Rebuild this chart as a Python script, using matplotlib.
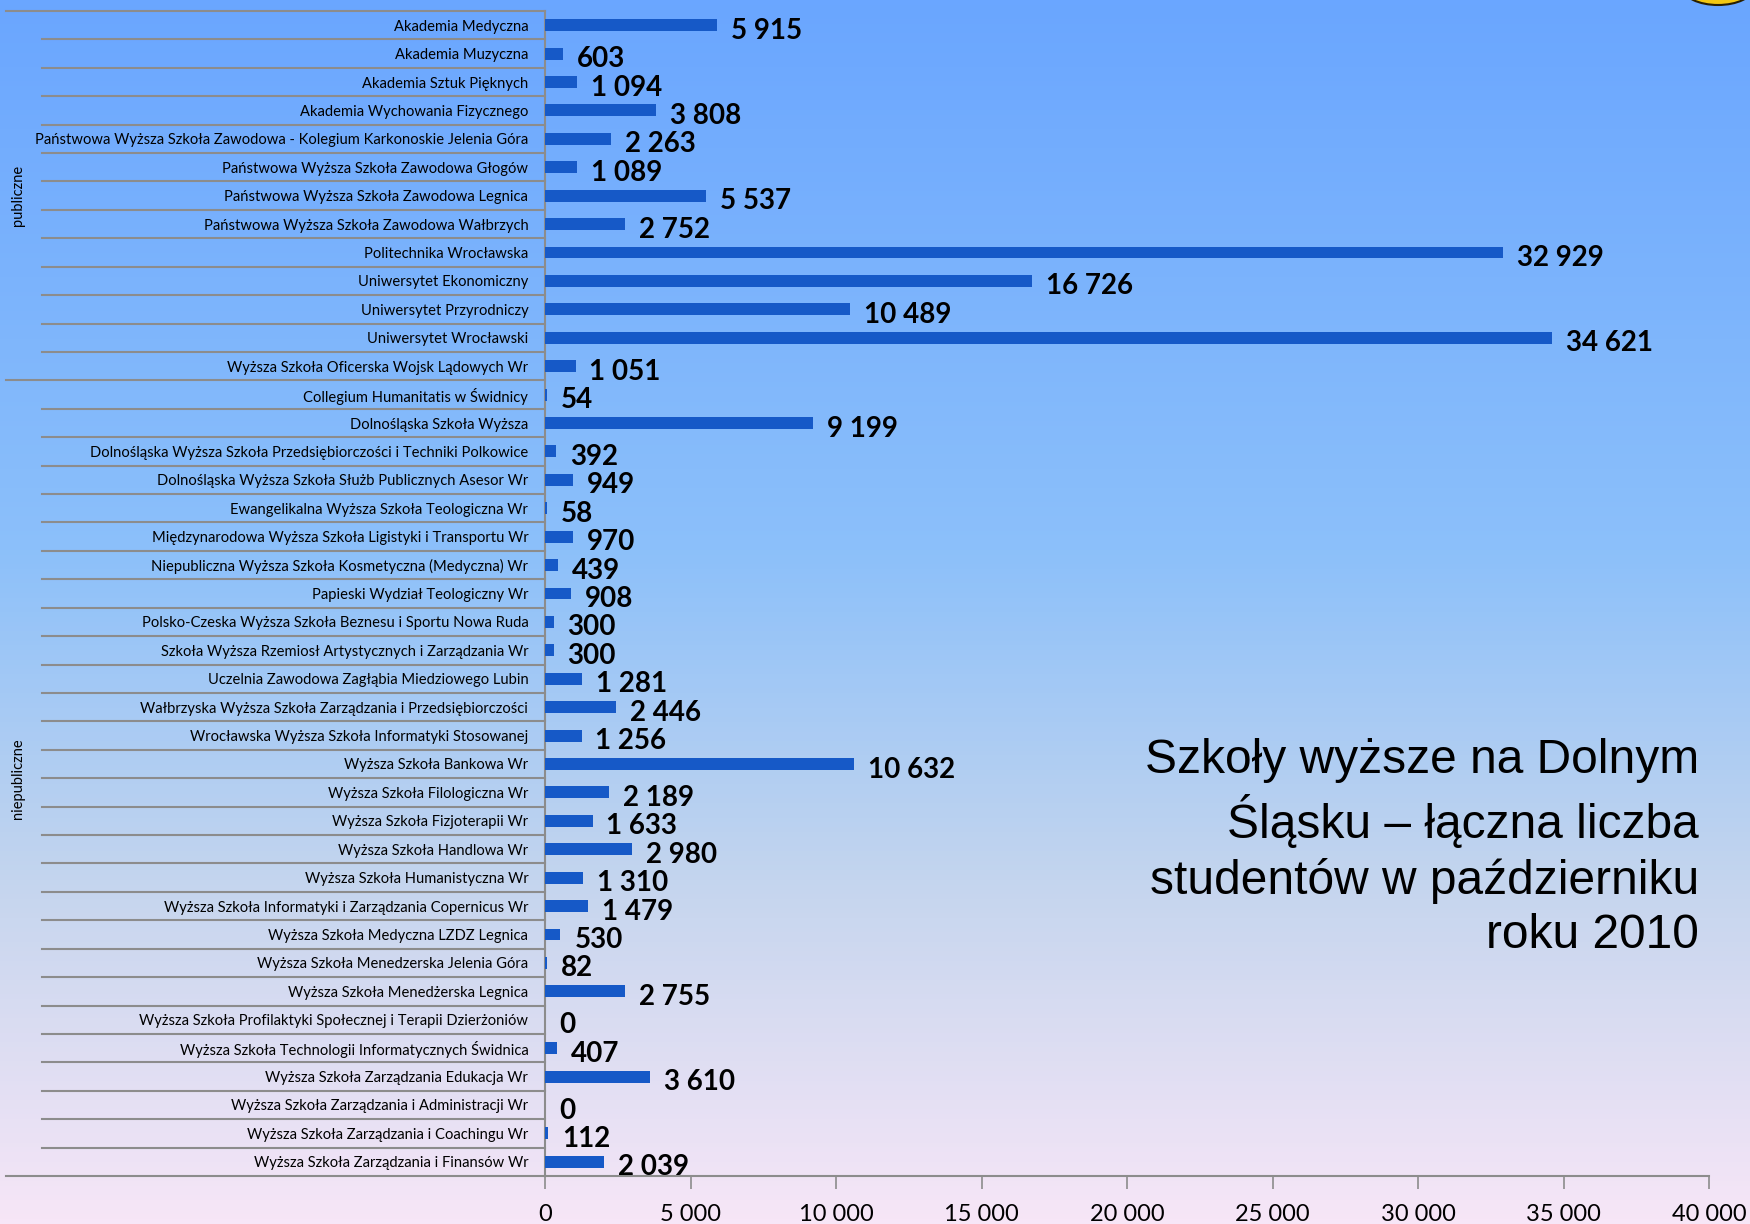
import numpy as np
import matplotlib.pyplot as plt
import matplotlib.transforms as mtransforms
from matplotlib.colors import LinearSegmentedColormap
from matplotlib.patches import Ellipse

plt.rcParams['font.family'] = ['Lato', 'DejaVu Sans']

# public schools
pub_names = [
    "Akademia Medyczna",
    "Akademia Muzyczna",
    "Akademia Sztuk Pięknych",
    "Akademia Wychowania Fizycznego",
    "Państwowa Wyższa Szkoła Zawodowa - Kolegium Karkonoskie Jelenia Góra",
    "Państwowa Wyższa Szkoła Zawodowa Głogów",
    "Państwowa Wyższa Szkoła Zawodowa Legnica",
    "Państwowa Wyższa Szkoła Zawodowa Wałbrzych",
    "Politechnika Wrocławska",
    "Uniwersytet Ekonomiczny",
    "Uniwersytet Przyrodniczy",
    "Uniwersytet Wrocławski",
    "Wyższa Szkoła Oficerska Wojsk Lądowych Wr",
]
pub_values = [5915, 603, 1094, 3808, 2263, 1089, 5537, 2752, 32929, 16726, 10489, 34621, 1051]

# non-public schools
npub_names = [
    "Collegium Humanitatis w Świdnicy",
    "Dolnośląska Szkoła Wyższa",
    "Dolnośląska Wyższa Szkoła Przedsiębiorczości i Techniki Polkowice",
    "Dolnośląska Wyższa Szkoła Służb Publicznych Asesor Wr",
    "Ewangelikalna Wyższa Szkoła Teologiczna Wr",
    "Międzynarodowa Wyższa Szkoła Ligistyki i Transportu Wr",
    "Niepubliczna Wyższa Szkoła Kosmetyczna (Medyczna) Wr",
    "Papieski Wydział Teologiczny Wr",
    "Polsko-Czeska Wyższa Szkoła Beznesu i Sportu Nowa Ruda",
    "Szkoła Wyższa Rzemiosł Artystycznych i Zarządzania Wr",
    "Uczelnia Zawodowa Zagłąbia Miedziowego Lubin",
    "Wałbrzyska Wyższa Szkoła Zarządzania i Przedsiębiorczości",
    "Wrocławska Wyższa Szkoła Informatyki Stosowanej",
    "Wyższa Szkoła Bankowa Wr",
    "Wyższa Szkoła Filologiczna Wr",
    "Wyższa Szkoła Fizjoterapii Wr",
    "Wyższa Szkoła Handlowa Wr",
    "Wyższa Szkoła Humanistyczna Wr",
    "Wyższa Szkoła Informatyki i Zarządzania Copernicus Wr",
    "Wyższa Szkoła Medyczna LZDZ Legnica",
    "Wyższa Szkoła Menedzerska Jelenia Góra",
    "Wyższa Szkoła Menedżerska Legnica",
    "Wyższa Szkoła Profilaktyki Społecznej i Terapii Dzierżoniów",
    "Wyższa Szkoła Technologii Informatycznych Świdnica",
    "Wyższa Szkoła Zarządzania Edukacja Wr",
    "Wyższa Szkoła Zarządzania i Administracji Wr",
    "Wyższa Szkoła Zarządzania i Coachingu Wr",
    "Wyższa Szkoła Zarządzania i Finansów Wr",
]
npub_values = [54, 9199, 392, 949, 58, 970, 439, 908, 300, 300, 1281, 2446, 1256,
               10632, 2189, 1633, 2980, 1310, 1479, 530, 82, 2755, 0, 407, 3610, 0, 112, 2039]

group_labels = ["publiczne", "niepubliczne"]
x_ticks = [0, 5000, 10000, 15000, 20000, 25000, 30000, 35000, 40000]
title = "Szkoły wyższe na Dolnym\nŚląsku – łączna liczba\nstudentów w październiku\nroku 2010"

names = pub_names + npub_names
values = pub_values + npub_values
n = len(names)
y = np.arange(n)

W, H = 1750, 1224
fig = plt.figure(figsize=(W / 100, H / 100), dpi=100)

# background gradient
bg = fig.add_axes([0, 0, 1, 1], zorder=-10)
cmap = LinearSegmentedColormap.from_list("bg", [
    (0.0, (106/255, 166/255, 255/255)),
    (0.45, (140/255, 192/255, 250/255)),
    (0.72, (196/255, 213/255, 238/255)),
    (1.0, (247/255, 230/255, 247/255)),
])
grad = np.linspace(0, 1, 256).reshape(-1, 1)
bg.imshow(grad, aspect="auto", cmap=cmap, extent=[0, 1, 0, 1], origin="upper")
bg.set_xlim(0, 1)
bg.set_ylim(0, 1)
bg.axis("off")
# small yellow badge cut at top-right corner
bg.add_patch(Ellipse((1718 / W, 1 + 12 / H), 70 / W, 34 / H, facecolor="#f3c811",
                     edgecolor="#2a2000", lw=1.5, clip_on=True))

left, right = 545 / W, 1709 / W
bottom, top = 1 - 1176 / H, 1 - 11 / H
ax = fig.add_axes([left, bottom, right - left, top - bottom])
ax.patch.set_visible(False)

ax.barh(y, values, height=0.42, color="#1659c7", zorder=3)
ax.set_xlim(0, 40000)
ax.set_ylim(n - 0.5, -0.5)

for yi, v in zip(y, values):
    ax.annotate(f"{v:,}".replace(",", " "), (v, yi), xytext=(10, -4),
                textcoords="offset points", va="center", ha="left",
                fontsize=20, fontweight="bold", color="black")

grey = "#8c8c8c"
ax.set_yticks(y)
ax.set_yticklabels(names, fontsize=10.6)
ax.tick_params(axis="y", length=0, pad=12)
ax.set_xticks(x_ticks)
ax.set_xticklabels([f"{t:,}".replace(",", " ") for t in x_ticks], fontsize=17)
ax.tick_params(axis="x", length=9, width=1.2, color=grey, pad=11)

for s in ["top", "right"]:
    ax.spines[s].set_visible(False)
for s in ["left", "bottom"]:
    ax.spines[s].set_color(grey)
    ax.spines[s].set_linewidth(1.5)

# multi-level category separators
tr = mtransforms.blended_transform_factory(ax.transAxes, ax.transData)
sep_x = (42 - 545) / (1709 - 545)
grp_x = (6 - 545) / (1709 - 545)
n_pub = len(pub_names)
for b in np.arange(-0.5, n, 1.0):
    if b in (-0.5, n_pub - 0.5, n - 0.5):
        x0 = grp_x
    else:
        x0 = sep_x
    ax.plot([x0, 0], [b, b], transform=tr, color=grey, lw=1.5, clip_on=False, zorder=2)

# group labels
ax.text((18 - 545) / (1709 - 545), (n_pub - 1) / 2, group_labels[0], transform=tr,
        rotation=90, ha="center", va="center", fontsize=10.5)
ax.text((18 - 545) / (1709 - 545), (n_pub + n - 1) / 2, group_labels[1], transform=tr,
        rotation=90, ha="center", va="center", fontsize=10.5)

fig.text(1699 / W, 1 - 738 / H, title, ha="right", va="top", fontsize=34.5,
         family=["Liberation Sans", "DejaVu Sans"], linespacing=1.26, color="black")

fig.savefig("out.png", dpi=100)
